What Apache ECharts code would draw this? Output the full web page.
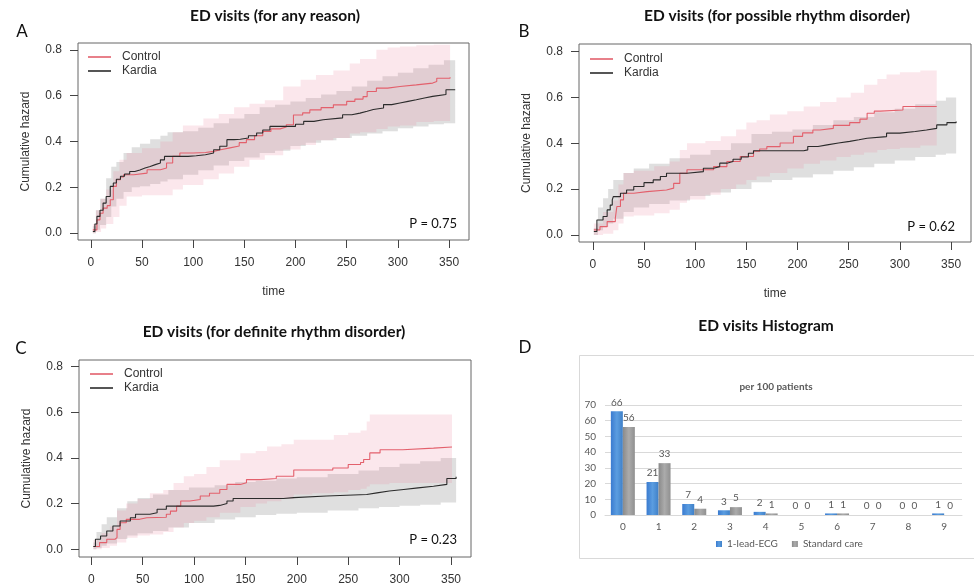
<!DOCTYPE html>
<html><head><meta charset="utf-8">
<script src="https://cdn.jsdelivr.net/npm/echarts@6/dist/echarts.min.js"></script>
<style>html,body{margin:0;padding:0;background:#fff}#c{width:974px;height:586px}</style>
</head><body><div id="c"></div><script>
// ---------- tick labels ----------
const xTicks = [0, 50, 100, 150, 200, 250, 300, 350];
const yTicks = [0, 0.2, 0.4, 0.6, 0.8];

// ---------- Panel A: ED visits (any reason) ----------
const A_ctrl_t = [2,6,9,12,16,19,22,25,29,32,42,55,68,74,80,87,100,112,120,128,136,145,152,160,168,176,185,191,198,207,214,225,237,250,258,266,270,279,290,302,318,334,338,351];
const A_ctrl_h = [0.014,0.058,0.087,0.109,0.12,0.146,0.204,0.233,0.245,0.255,0.262,0.277,0.284,0.306,0.335,0.35,0.352,0.357,0.365,0.372,0.38,0.395,0.408,0.425,0.444,0.455,0.463,0.473,0.516,0.525,0.538,0.548,0.56,0.575,0.585,0.596,0.618,0.633,0.64,0.647,0.655,0.662,0.676,0.68];
const A_kard_t = [2,4,6,9,12,15,19,22,25,29,33,38,43,48,53,58,63,68,72,95,103,112,120,126,133,140,146,154,162,168,175,200,208,218,227,246,255,263,270,276,286,294,302,310,318,326,334,347,356];
const A_kard_h = [0.007,0.04,0.073,0.1,0.131,0.16,0.204,0.219,0.235,0.248,0.258,0.269,0.276,0.284,0.291,0.299,0.306,0.32,0.335,0.338,0.342,0.35,0.364,0.379,0.408,0.41,0.415,0.425,0.437,0.45,0.466,0.475,0.488,0.495,0.503,0.517,0.524,0.532,0.54,0.546,0.561,0.568,0.575,0.582,0.59,0.597,0.605,0.626,0.629];
const A_ctrl_ci_t = [2,5,10,15,22,28,35,50,68,80,90,110,125,140,155,170,188,205,220,237,253,263,279,290,302,318,335,351];
const A_ctrl_lo = [0,0.005,0.02,0.04,0.07,0.12,0.16,0.165,0.165,0.19,0.21,0.235,0.26,0.29,0.32,0.34,0.365,0.385,0.405,0.415,0.435,0.44,0.455,0.465,0.47,0.485,0.49,0.495];
const A_ctrl_hi = [0.04,0.1,0.15,0.19,0.27,0.32,0.35,0.37,0.4,0.44,0.47,0.5,0.52,0.55,0.565,0.58,0.64,0.67,0.69,0.71,0.74,0.76,0.8,0.81,0.815,0.82,0.822,0.822];
const A_kard_ci_t = [2,5,9,15,20,25,32,40,48,58,68,75,90,105,120,135,150,165,180,195,210,225,240,255,270,285,300,315,330,345,356];
const A_kard_lo = [0,0.015,0.035,0.07,0.116,0.15,0.18,0.2,0.205,0.215,0.225,0.235,0.255,0.275,0.295,0.315,0.33,0.35,0.36,0.38,0.395,0.405,0.415,0.425,0.435,0.445,0.458,0.465,0.475,0.48,0.487];
const A_kard_hi = [0.03,0.1,0.15,0.24,0.29,0.31,0.35,0.375,0.39,0.41,0.425,0.44,0.445,0.46,0.48,0.5,0.52,0.55,0.56,0.575,0.59,0.605,0.62,0.64,0.665,0.685,0.7,0.72,0.735,0.755,0.76];

// ---------- Panel B: possible rhythm disorder ----------
const B_ctrl_t = [1,7,14,22,23.5,27,30,40,53,72,79,85,92,118,131,144,157,163,170,183,196,205,215,222,235,251,261,268,275,281,303,336];
const B_ctrl_h = [0.022,0.036,0.058,0.073,0.124,0.153,0.182,0.189,0.196,0.204,0.225,0.269,0.284,0.298,0.32,0.342,0.365,0.375,0.385,0.401,0.43,0.445,0.458,0.465,0.478,0.49,0.505,0.531,0.54,0.545,0.56,0.563];
const B_kard_t = [1,4,10,14,17,19,20,27,33,40,50,59,66,72,92,108,118,124,131,137,145,152,157,206,210,220,229,240,251,260,268,287,300,315,326,336,346,355];
const B_kard_h = [0.015,0.065,0.08,0.109,0.13,0.153,0.167,0.182,0.196,0.211,0.228,0.24,0.255,0.269,0.276,0.291,0.298,0.313,0.32,0.33,0.34,0.356,0.367,0.371,0.386,0.393,0.401,0.408,0.415,0.422,0.429,0.444,0.451,0.458,0.465,0.48,0.49,0.495];
const B_ctrl_ci_t = [1,10,20,25,30,40,60,75,85,92,110,125,140,150,160,173,190,206,222,238,252,265,278,287,300,320,336];
const B_ctrl_lo = [0,0.005,0.02,0.05,0.08,0.085,0.095,0.11,0.14,0.155,0.175,0.2,0.22,0.24,0.255,0.27,0.29,0.31,0.325,0.34,0.35,0.36,0.37,0.375,0.38,0.39,0.395];
const B_ctrl_hi = [0.05,0.1,0.15,0.22,0.27,0.28,0.3,0.32,0.37,0.4,0.41,0.43,0.46,0.49,0.5,0.525,0.54,0.56,0.58,0.6,0.62,0.655,0.68,0.7,0.71,0.717,0.717];
const B_kard_ci_t = [1,5,10,15,20,30,40,55,75,95,115,135,155,175,195,215,235,255,275,295,315,335,345,355];
const B_kard_lo = [0,0.02,0.035,0.05,0.07,0.1,0.12,0.135,0.15,0.17,0.185,0.2,0.23,0.24,0.25,0.265,0.28,0.295,0.31,0.325,0.34,0.35,0.355,0.364];
const B_kard_hi = [0.03,0.12,0.16,0.2,0.24,0.27,0.29,0.31,0.335,0.35,0.37,0.4,0.44,0.45,0.46,0.48,0.5,0.515,0.535,0.55,0.57,0.585,0.6,0.611];

// ---------- Panel C: definite rhythm disorder ----------
const C_ctrl_t = [2,8,15,23,25,28,34,47,54,73,77,83,87,96,106,115,125,132,145,151,165,180,197,235,250,262,265,271,281,303,333,351];
const C_ctrl_h = [0.012,0.029,0.044,0.051,0.087,0.116,0.131,0.138,0.14,0.153,0.167,0.189,0.211,0.218,0.233,0.245,0.262,0.284,0.291,0.305,0.31,0.32,0.347,0.356,0.371,0.38,0.393,0.422,0.436,0.443,0.448,0.451];
const C_kard_t = [2,4,9,15,21,28,38,43,57,64,73,119,125,132,138,187,197,229,268,278,290,304,318,333,346,355];
const C_kard_h = [0.012,0.044,0.058,0.08,0.102,0.124,0.138,0.153,0.16,0.175,0.189,0.192,0.2,0.211,0.222,0.226,0.233,0.24,0.247,0.255,0.262,0.269,0.276,0.284,0.31,0.318];
const C_ctrl_ci_t = [2,10,18,25,34,45,57,70,80,90,100,112,125,145,160,171,185,197,215,236,250,262,268,271,290,351];
const C_ctrl_lo = [0,0.005,0.015,0.03,0.05,0.06,0.065,0.075,0.095,0.115,0.125,0.14,0.16,0.185,0.2,0.21,0.22,0.24,0.245,0.25,0.26,0.265,0.275,0.285,0.29,0.298];
const C_ctrl_hi = [0.04,0.07,0.1,0.17,0.2,0.22,0.245,0.26,0.29,0.32,0.33,0.36,0.39,0.42,0.43,0.45,0.46,0.48,0.48,0.5,0.51,0.52,0.56,0.59,0.59,0.59];
const C_kard_ci_t = [2,5,10,15,25,35,45,60,75,95,120,140,160,180,200,230,260,280,300,320,340,355];
const C_kard_lo = [0,0.005,0.015,0.025,0.045,0.06,0.07,0.08,0.095,0.115,0.13,0.14,0.15,0.155,0.16,0.17,0.18,0.185,0.19,0.195,0.205,0.211];
const C_kard_hi = [0.03,0.075,0.11,0.14,0.18,0.21,0.225,0.24,0.26,0.27,0.28,0.295,0.3,0.31,0.315,0.33,0.345,0.36,0.375,0.385,0.4,0.407];

// ---------- Panel D: histogram per 100 patients ----------
const D_categories = ['0','1','2','3','4','5','6','7','8','9'];
const D_ecg = [66,21,7,3,2,0,1,0,0,1];
const D_std = [56,33,4,5,1,0,1,0,0,0];

// ---------- styles ----------
const RED = '#e3606c', BLACK = '#2b2b2b';
const PINK_FILL = 'rgba(236,130,155,0.19)';
const GRAY_FILL = 'rgba(140,140,140,0.28)';
const RFONT = 'Liberation Sans, Arial, sans-serif';
const CFONT = 'Lato, "Open Sans", sans-serif';
const TICK = 8;

const kmGrids = [
  {left:78, top:43, width:391, height:197},
  {left:579, top:44, width:392, height:198},
  {left:79, top:360, width:392, height:198}
];
const kmX = [[-12.5, 369.5], [-13.5, 369.5], [-12, 369.5]];
const kmY = [[-0.03, 0.83], [-0.031, 0.833], [-0.034, 0.829]];

function curve(name, ts, hs, color, gi) {
  return {type:'line', name, xAxisIndex:gi, yAxisIndex:gi, step:'end', symbol:'none',
    data: ts.map((t,i)=>[t, hs[i]]), lineStyle:{color, width:1.1}, itemStyle:{color},
    z:5, silent:true};
}
// confidence band: step polygon between lower and upper, placed through the axes (api.coord)
function band(key, ts, lo, hi, fill, gi, z) {
  return {type:'custom', name:key, coordinateSystem:'cartesian2d', xAxisIndex:gi, yAxisIndex:gi,
    data:[[ts[0], lo[0]]], z:z, silent:true, clip:true,
    renderItem:function(params, api){
      const up = [], dn = [];
      for (let i = 0; i < ts.length; i++) {
        up.push(api.coord([ts[i], hi[i]]));
        dn.push(api.coord([ts[i], lo[i]]));
        if (i < ts.length - 1) {
          up.push(api.coord([ts[i+1], hi[i]]));
          dn.push(api.coord([ts[i+1], lo[i]]));
        }
      }
      return {type:'polygon', shape:{points: up.concat(dn.reverse())}, style:{fill:fill, stroke:null}};
    }};
}

const grids = kmGrids.map(g => Object.assign({show:true, borderColor:'#666', borderWidth:1, backgroundColor:'transparent'}, g));
grids.push({left:605, top:405, width:357, height:110});

// R-style axes: axis sits TICK px outside the box, ticks point back toward the box
const xAxes = kmGrids.map((g,i) => ({
  type:'value', gridIndex:i, min:kmX[i][0], max:kmX[i][1], position:'bottom', offset:TICK,
  axisLine:{show:false, onZero:false},
  axisTick:{show:true, inside:true, length:TICK, lineStyle:{color:'#444'}, customValues:xTicks},
  axisLabel:{customValues:xTicks, margin:9, fontSize:12, color:'#333', fontFamily:RFONT},
  splitLine:{show:false},
  name: i < 2 ? 'time' : '', nameLocation:'middle', nameGap:38,
  nameTextStyle:{fontSize:12, color:'#333', fontFamily:RFONT}
}));
xAxes.push({type:'category', gridIndex:3, data:D_categories,
  axisLine:{lineStyle:{color:'#d9d9d9'}}, axisTick:{show:false},
  axisLabel:{fontSize:10, color:'#595959', fontFamily:CFONT, margin:7}});

const yAxes = kmGrids.map((g,i) => ({
  type:'value', gridIndex:i, min:kmY[i][0], max:kmY[i][1], position:'left', offset:TICK,
  axisLine:{show:false, onZero:false},
  axisTick:{show:true, inside:true, length:TICK, lineStyle:{color:'#444'}, customValues:yTicks},
  axisLabel:{customValues:yTicks, margin:8, fontSize:12, color:'#333', fontFamily:RFONT, formatter:v=>Number(v).toFixed(1)},
  splitLine:{show:false},
  name:'Cumulative hazard', nameLocation:'middle', nameGap:38, nameRotate:90,
  nameTextStyle:{fontSize:12, color:'#333', fontFamily:RFONT}
}));
yAxes.push({type:'value', gridIndex:3, min:0, max:70, interval:10,
  axisLine:{show:false}, axisTick:{show:false},
  axisLabel:{fontSize:10, color:'#595959', fontFamily:CFONT, margin:9},
  splitLine:{lineStyle:{color:'#d9d9d9'}}});

const panels = [
  [A_ctrl_t,A_ctrl_h,A_kard_t,A_kard_h,A_ctrl_ci_t,A_ctrl_lo,A_ctrl_hi,A_kard_ci_t,A_kard_lo,A_kard_hi],
  [B_ctrl_t,B_ctrl_h,B_kard_t,B_kard_h,B_ctrl_ci_t,B_ctrl_lo,B_ctrl_hi,B_kard_ci_t,B_kard_lo,B_kard_hi],
  [C_ctrl_t,C_ctrl_h,C_kard_t,C_kard_h,C_ctrl_ci_t,C_ctrl_lo,C_ctrl_hi,C_kard_ci_t,C_kard_lo,C_kard_hi]
];
const series = [];
panels.forEach((p, gi) => {
  series.push(band('Kardia CI', p[7], p[8], p[9], GRAY_FILL, gi, 1));
  series.push(band('Control CI', p[4], p[5], p[6], PINK_FILL, gi, 2));
  series.push(curve('Control', p[0], p[1], RED, gi));
  series.push(curve('Kardia', p[2], p[3], BLACK, gi));
});
const barLabel = {show:true, position:'top', distance:4, fontSize:10, color:'#595959', fontFamily:CFONT};
series.push({type:'bar', name:'1-lead-ECG', xAxisIndex:3, yAxisIndex:3, data:D_ecg, barWidth:12, barGap:'0%',
  itemStyle:{color:new echarts.graphic.LinearGradient(0,0,1,0,[{offset:0,color:'#3a7bd0'},{offset:0.5,color:'#5b9de0'},{offset:1,color:'#3f80c8'}])},
  label:barLabel});
series.push({type:'bar', name:'Standard care', xAxisIndex:3, yAxisIndex:3, data:D_std, barWidth:12, barGap:'0%',
  itemStyle:{color:new echarts.graphic.LinearGradient(0,0,1,0,[{offset:0,color:'#8a8a8a'},{offset:0.5,color:'#ababab'},{offset:1,color:'#909090'}])},
  label:barLabel});

function txt(text, left, top, size, weight, align, color) {
  return {text, left, top, textAlign:align||'center', padding:0,
    textStyle:{fontSize:size, fontWeight:weight||'normal', color:color||'#111', fontFamily:CFONT}};
}
const titles = [
  txt('ED visits (for any reason)', 275, 8, 15.5, 'bold'),
  txt('ED visits (for possible rhythm disorder)', 777, 8, 15.5, 'bold'),
  txt('ED visits (for definite rhythm disorder)', 274, 324, 15.5, 'bold'),
  txt('ED visits Histogram', 766, 318, 15.5, 'bold'),
  txt('per 100 patients', 776, 382, 10, 'bold', 'center', '#595959'),
  txt('A', 22, 23, 17),
  txt('B', 524, 23, 17),
  txt('C', 21, 340, 17),
  txt('D', 525, 339, 17),
  {text:'P = 0.75', right:974-457, top:217, padding:0, textStyle:{fontSize:13, fontWeight:'normal', color:'#111', fontFamily:CFONT}},
  {text:'P = 0.62', right:974-955, top:220, padding:0, textStyle:{fontSize:13, fontWeight:'normal', color:'#111', fontFamily:CFONT}},
  {text:'P = 0.23', right:974-457, top:533, padding:0, textStyle:{fontSize:13, fontWeight:'normal', color:'#111', fontFamily:CFONT}}
];

function kmLegend(left, top) {
  return {data:['Control','Kardia'], orient:'vertical', left, top, padding:0, itemGap:2,
    icon:'rect', itemWidth:23, itemHeight:1.6, selectedMode:false,
    textStyle:{fontSize:12, color:'#333', fontFamily:RFONT, padding:[0,0,0,6]}};
}
const legends = [kmLegend(88, 51), kmLegend(590, 53), kmLegend(90, 368),
  {data:['1-lead-ECG','Standard care'], left:716, top:539, padding:0, itemGap:14,
    icon:'rect', itemWidth:6, itemHeight:6, selectedMode:false,
    textStyle:{fontSize:10, color:'#595959', fontFamily:CFONT}}];

const chart = echarts.init(document.getElementById('c'), null, {renderer:'canvas'});
chart.setOption({
  animation:false,
  backgroundColor:'#fff',
  title:titles,
  legend:legends,
  grid:grids,
  xAxis:xAxes,
  yAxis:yAxes,
  series,
  graphic:[{type:'rect', shape:{x:579.5, y:355.5, width:400, height:203}, style:{fill:'none', stroke:'#d9d9d9', lineWidth:1}, z:-1}]
});
</script></body></html>
